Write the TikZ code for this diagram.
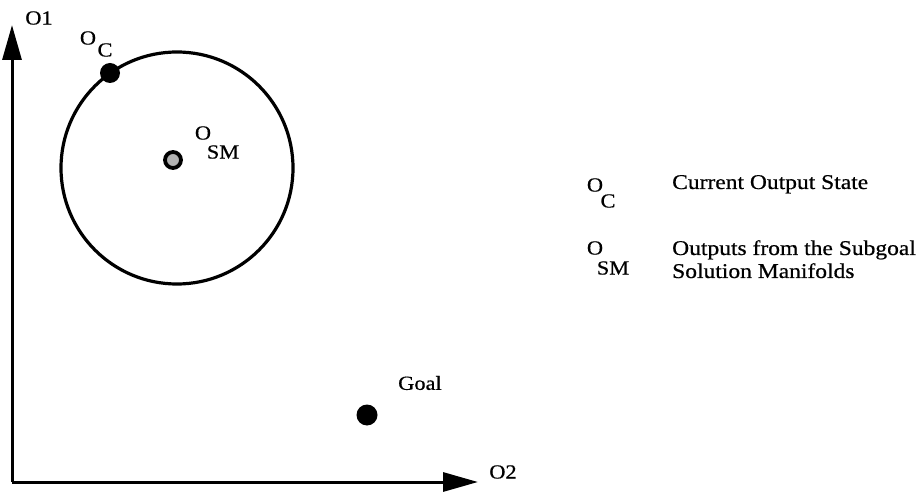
\documentclass[tikz,border=0pt]{standalone}
\usepackage{fontspec}
\setmainfont{Liberation Serif}
\newfontfamily\labfont[FakeStretch=1.12,FakeBold=0.6]{Liberation Serif}
\usetikzlibrary{arrows.meta}
\begin{document}
\begin{tikzpicture}[x=1pt,y=1pt,
  axis/.style={line width=3pt, -{Triangle[length=35pt,width=19pt]}},
  lab/.style={inner sep=0pt, font=\labfont\fontsize{20}{23}\selectfont},
  leg/.style={inner sep=0pt, anchor=base west, font=\labfont\fontsize{21}{25}\selectfont},
  dot/.style={circle, fill=black, inner sep=0pt, minimum size=20pt}]
\useasboundingbox (0,0) rectangle (918,493);

% axes
\coordinate (origin) at (12,11);
\coordinate (ytip) at (12,468);
\coordinate (xtip) at (478,11);
\draw[axis] (origin) -- (ytip);
\draw[axis] (origin) -- (xtip);
\node[lab] (o1) at (39,475) {O1};
\node[lab] (o2) at (503,21) {O2};

% region around the subgoal outputs
\node[circle, draw, line width=3.2pt, minimum size=232pt, inner sep=0pt] (region) at (177,325) {};

% current output state
\node[dot, minimum size=20pt] (oc) at (110,420) {};
\node[lab] (ocO) at (88,455) {O};
\node[lab] (ocC) at (105,443) {C};

% subgoal output
\node[circle, draw, line width=3.8pt, fill=gray!60, minimum size=16pt, inner sep=0pt] (osm) at (173,333) {};
\node[lab] (osmO) at (203,360) {O};
\node[lab] (osmS) at (223,341) {SM};

% goal
\node[dot, minimum size=21pt] (goal) at (367,78) {};
\node[lab, anchor=west] (goallab) at (398,110) {Goal};

% legend
\node[lab] (lgOc) at (595,308) {O};
\node[lab] (lgC) at (608,292) {C};
\node[leg] (lg1) at (672,304) {Current Output State};
\node[lab] (lgOs) at (595,245) {O};
\node[lab] (lgSM) at (613,225) {SM};
\node[leg] (lg2) at (672,238) {Outputs from the Subgoal};
\node[leg] (lg3) at (672,215) {Solution Manifolds};
\end{tikzpicture}
\end{document}
